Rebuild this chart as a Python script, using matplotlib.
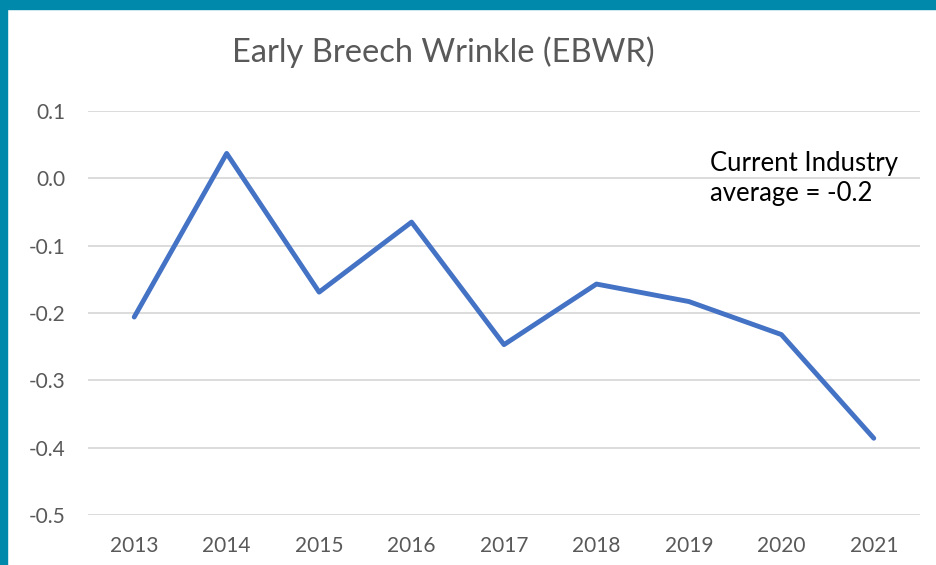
import matplotlib
matplotlib.use("Agg")
import matplotlib.pyplot as plt
from matplotlib.patches import Rectangle

years = ["2013", "2014", "2015", "2016", "2017", "2018", "2019", "2020", "2021"]
ebwr = [-0.206, 0.037, -0.169, -0.065, -0.247, -0.157, -0.183, -0.232, -0.386]
yticks = [0.1, 0.0, -0.1, -0.2, -0.3, -0.4, -0.5]
ytick_labels = ["0.1", "0.0", "-0.1", "-0.2", "-0.3", "-0.4", "-0.5"]

plt.rcParams['font.family'] = ['Lato', 'DejaVu Sans']

W, H = 937, 565
fig = plt.figure(figsize=(W / 100, H / 100), dpi=100)
fig.patch.set_facecolor("white")

# teal frame (top and left)
fig.patches.append(Rectangle((0, 1 - 9 / H), 1, 9 / H, transform=fig.transFigure,
                             color="#0089AB", zorder=0))
fig.patches.append(Rectangle((0, 0), 7 / W, 1, transform=fig.transFigure,
                             color="#0089AB", zorder=0))

ax = fig.add_axes([88 / W, 1 - 515 / H, (920 - 88) / W, (515 - 111) / H])
x = list(range(len(years)))
ax.plot(x, ebwr, color="#4472C4", lw=3.5, solid_joinstyle="round",
        solid_capstyle="round", zorder=3)
ax.set_xlim(-0.5, len(years) - 0.5)
ax.set_ylim(-0.5, 0.1)
ax.set_yticks(yticks)
ax.set_yticklabels(ytick_labels)
ax.set_xticks(x)
ax.set_xticklabels(years)
ax.grid(axis="y", color="#D9D9D9", lw=1.3)
ax.set_axisbelow(True)
for s in ax.spines.values():
    s.set_visible(False)
ax.tick_params(axis="both", length=0, labelsize=15, colors="#595959")
ax.tick_params(axis="y", pad=16)
ax.tick_params(axis="x", pad=15)

fig.text(443 / W, 1 - 52 / H, "Early Breech Wrinkle (EBWR)", ha="center", va="center",
         fontsize=23.5, color="#595959")
fig.text(710 / W, 1 - 178 / H, "Current Industry\naverage = -0.2", ha="left", va="center",
         fontsize=18.5, color="black", linespacing=1.25)

fig.savefig("out.png", dpi=100)
